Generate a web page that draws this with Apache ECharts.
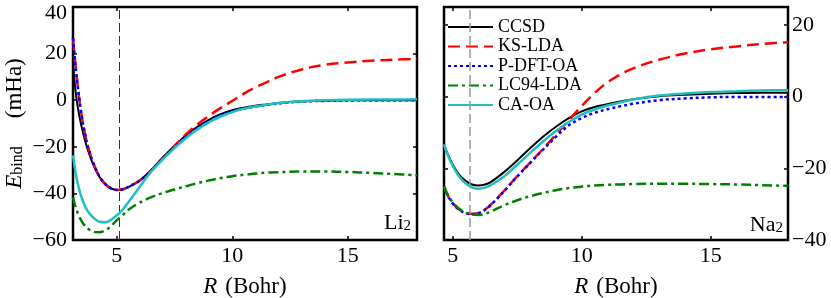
<!DOCTYPE html>
<html><head><meta charset="utf-8">
<script src="https://cdn.jsdelivr.net/npm/echarts@6/dist/echarts.min.js"></script>
<style>html,body{margin:0;padding:0;background:#fff}#c{width:831px;height:298px}</style>
</head><body><div id="c"></div>
<script>
// ---- Li2 panel data (R in Bohr, E_bind in mHa) ----
const rLi    = [3.1, 3.2, 3.3, 3.4, 3.5, 3.6, 3.75, 4.0, 4.25, 4.5, 4.75, 5.0, 5.25, 5.5, 6.0, 6.5, 7.0, 7.5, 8.0, 8.5, 9.0, 9.5, 10, 10.5, 11, 11.5, 12, 13, 14, 15, 16, 17, 18];
const ccsdLi = [16.5, 5, -2.5, -8, -12.5, -16.5, -21.5, -28.2, -33, -36.2, -37.9, -38.5, -38.3, -37.3, -34.3, -29.8, -24.5, -19.5, -15.0, -11.3, -8.3, -6.0, -4.3, -3.2, -2.4, -1.8, -1.2, -0.5, -0.2, 0, 0, 0, 0];
const ksLi   = [26.6, 16, 6.5, -1.5, -8, -13.5, -20, -27.5, -32.8, -36.0, -37.8, -38.5, -38.2, -37.2, -34.5, -30, -24.8, -19.6, -14.6, -10.3, -6.6, -3.3, -0.3, 2.8, 5.5, 7.8, 10.0, 13.2, 15.2, 16.2, 16.9, 17.4, 17.7];
const pdftLi = [26.6, 16, 6.5, -1.5, -8, -13.5, -20, -27.5, -32.8, -36.0, -37.8, -38.5, -38.2, -37.2, -34.5, -30, -24.8, -20, -15.5, -11.8, -8.8, -6.5, -4.8, -3.6, -2.7, -2.0, -1.4, -0.6, -0.3, -0.1, 0, 0, 0];
const lc94Li = [-41.7, -45.5, -48.3, -50.5, -52.3, -53.7, -55.2, -56.5, -56.7, -55.8, -54, -51.5, -49.3, -47.0, -43.9, -41.6, -39.8, -38.3, -36.9, -35.6, -34.4, -33.4, -32.6, -32.0, -31.5, -31.1, -30.9, -30.6, -30.6, -30.8, -31.2, -31.7, -32.2];
const caLi   = [-23.7, -30.5, -35.5, -39.5, -42.5, -45, -47.8, -50.6, -52.2, -52.4, -51.3, -49.4, -47.0, -43.8, -37.0, -30.5, -25.3, -20.5, -16.2, -12.5, -9.4, -7.0, -5.1, -3.7, -2.7, -1.9, -1.2, -0.4, 0, 0.2, 0.3, 0.3, 0.4];
const eqLi = 5.1;

// ---- Na2 panel data ----
const rNa    = [4.66, 4.8, 5.0, 5.25, 5.5, 5.75, 6.0, 6.25, 6.5, 7.0, 7.5, 8.0, 8.5, 9.0, 9.5, 10, 10.5, 11, 11.5, 12, 13, 14, 15, 16, 17, 18];
const ccsdNa = [-13.3, -16.0, -19.0, -21.8, -23.5, -24.5, -24.8, -24.5, -23.7, -21.0, -17.8, -14.4, -11.2, -8.4, -6.0, -4.1, -2.9, -2.1, -1.35, -0.7, 0.1, 0.5, 0.8, 1.0, 1.1, 1.1];
const ksNa   = [-25.1, -27.5, -29.8, -31.5, -32.4, -32.7, -32.4, -31.5, -30.0, -26.2, -22.2, -18.4, -14.6, -10.6, -6.6, -2.6, 1.0, 4.0, 6.2, 7.9, 10.3, 12.0, 13.2, 14.0, 14.7, 15.2];
const pdftNa = [-25.1, -27.5, -29.8, -31.6, -32.5, -32.8, -32.5, -31.6, -30.1, -26.3, -22.3, -18.5, -14.8, -11.2, -8.0, -6.0, -4.5, -3.5, -2.7, -2.0, -1.0, -0.5, -0.2, -0.1, -0.1, -0.1];
const lc94Na = [-25.1, -27.3, -29.5, -31.3, -32.4, -32.9, -33.0, -32.7, -32.0, -30.3, -28.9, -27.8, -26.9, -26.1, -25.5, -25.1, -24.8, -24.6, -24.5, -24.4, -24.3, -24.3, -24.4, -24.5, -24.7, -24.9];
const caNa   = [-13.3, -16.2, -19.3, -22.3, -24.2, -25.3, -25.7, -25.4, -24.6, -22.2, -19.0, -15.7, -12.5, -9.6, -7.1, -5.0, -3.6, -2.5, -1.6, -0.8, 0.3, 0.9, 1.3, 1.5, 1.7, 1.8];
const eqNa = 5.67;

// ---- ticks / names ----
const xTicksLi = [5, 10, 15];
const yTicksLi = [-60, -40, -20, 0, 20, 40];
const xTicksNa = [5, 10, 15];
const yTicksNa = [-40, -20, 0, 20];
const seriesNames = ['CCSD', 'KS-LDA', 'P-DFT-OA', 'LC94-LDA', 'CA-OA'];

const FONT = 'Liberation Serif, DejaVu Serif, serif';
const FS = 22;
const NFS = 23;

const styles = {
  'CCSD':     {color: '#000000', width: 2,   type: 'solid'},
  'KS-LDA':   {color: '#ff0000', width: 2.5, type: [12, 6]},
  'P-DFT-OA': {color: '#0000ff', width: 2.5, type: [3, 3]},
  'LC94-LDA': {color: '#008000', width: 2.5, type: [10, 4, 3, 4]},
  'CA-OA':    {color: '#1fbfbf', width: 2.5, type: 'solid'}
};

function pairs(xs, ys) { return xs.map((x, i) => [x, ys[i]]); }

const richName = {
  i: {fontFamily: FONT, fontSize: NFS, fontStyle: 'italic', color: '#000', lineHeight: 27, verticalAlign: 'bottom'},
  n: {fontFamily: FONT, fontSize: NFS, color: '#000', lineHeight: 27, verticalAlign: 'bottom'},
  s: {fontFamily: FONT, fontSize: 16, color: '#000', lineHeight: 14, verticalAlign: 'bottom'},
  g: {fontFamily: FONT, fontSize: NFS, lineHeight: 27, width: 8},
  G: {fontFamily: FONT, fontSize: NFS, lineHeight: 27, width: 28}
};

const labelStyle = {fontFamily: FONT, fontSize: FS, color: '#000'};
const tickStyle = {show: true, inside: true, length: 4, lineStyle: {color: '#000', width: 1.5}};

function xAx(grid, min, max, ticks, pos, main) {
  return {
    type: 'value', gridIndex: grid, min: min, max: max, position: pos,
    axisLine: {show: false, onZero: false}, splitLine: {show: false},
    axisTick: Object.assign({customValues: ticks}, tickStyle),
    axisLabel: main ? Object.assign({show: true, customValues: ticks, margin: 5}, labelStyle) : {show: false},
    name: main ? '{i|R}{g| }{n|(Bohr)}' : '',
    nameLocation: 'middle', nameGap: 31,
    nameTextStyle: {fontFamily: FONT, fontSize: NFS, color: '#000', rich: richName}
  };
}
function yAx(grid, min, max, ticks, pos, main, margin, name, topVal) {
  return {
    type: 'value', gridIndex: grid, min: min, max: max, position: pos,
    axisLine: {show: false, onZero: false}, splitLine: {show: false},
    axisTick: Object.assign({customValues: ticks}, tickStyle),
    axisLabel: main ? Object.assign({
      show: true, customValues: ticks, margin: margin,
      formatter: v => (v === topVal ? '{t|' + v + '}' : String(v)).replace('-', '\u2212'),
      rich: {t: {fontFamily: FONT, fontSize: FS, color: '#000', padding: [12, 0, 0, 0]}}
    }, labelStyle) : {show: false},
    name: name || '',
    nameLocation: 'middle', nameGap: 47,
    nameTextStyle: {fontFamily: FONT, fontSize: NFS, color: '#000', rich: richName}
  };
}

const liData = [ccsdLi, ksLi, pdftLi, lc94Li, caLi];
const naData = [ccsdNa, ksNa, pdftNa, lc94Na, caNa];

const series = [];
function addPanel(rs, data, xi, yi, eq, eqColor, eqWidth) {
  seriesNames.forEach((nm, k) => {
    const st = styles[nm];
    const s = {
      name: nm, type: 'line', xAxisIndex: xi, yAxisIndex: yi,
      data: pairs(rs, data[k]), symbol: 'none', smooth: 0.35,
      lineStyle: {color: st.color, width: st.width, type: st.type},
      itemStyle: {color: st.color}, z: 3 + k
    };
    if (k === 0) {
      s.markLine = {
        silent: true, symbol: ['none', 'none'], label: {show: false},
        lineStyle: {color: eqColor, width: eqWidth, type: [9, 4]},
        data: [{xAxis: eq}]
      };
    }
    series.push(s);
  });
}
addPanel(rLi, liData, 0, 0, eqLi, '#333333', 1);
addPanel(rNa, naData, 2, 2, eqNa, '#999999', 1.5);

const richMol = {
  a: {fontFamily: FONT, fontSize: FS, color: '#000', lineHeight: 26, verticalAlign: 'bottom'},
  b: {fontFamily: FONT, fontSize: 15, color: '#000', lineHeight: 13, verticalAlign: 'bottom'}
};

const gridBase = {top: 7, bottom: 58, show: true, borderColor: '#000', borderWidth: 2.5,
  backgroundColor: 'transparent', containLabel: false, outerBoundsMode: 'none'};

const option = {
  animation: false,
  backgroundColor: '#fff',
  textStyle: {fontFamily: FONT, color: '#000'},
  grid: [
    Object.assign({left: 73, right: 414}, gridBase),
    Object.assign({left: 444, right: 43}, gridBase)
  ],
  xAxis: [
    xAx(0, 3.1, 18, xTicksLi, 'bottom', true),
    xAx(0, 3.1, 18, xTicksLi, 'top', false),
    xAx(1, 4.66, 18, xTicksNa, 'bottom', true),
    xAx(1, 4.66, 18, xTicksNa, 'top', false)
  ],
  yAxis: [
    yAx(0, -60, 40, yTicksLi, 'left', true, 6, '{i|E}{s|bind}{G| }{n|(mHa)}', 40),
    yAx(0, -60, 40, yTicksLi, 'right', false, 6),
    yAx(1, -40, 25, yTicksNa, 'right', true, 4, '', null),
    yAx(1, -40, 25, yTicksNa, 'left', false, 4)
  ],
  legend: {
    data: seriesNames, orient: 'vertical', left: 447, top: 18, padding: 0,
    itemWidth: 45, itemHeight: 14, itemGap: 1.5, selectedMode: false,
    itemStyle: {opacity: 0},
    textStyle: {fontFamily: FONT, fontSize: 18, color: '#000'}
  },
  graphic: [
    {type: 'text', z: 100, style: {text: '{a|Li}{b|2}', rich: richMol, x: 411, y: 234, align: 'right', verticalAlign: 'bottom'}},
    {type: 'text', z: 100, style: {text: '{a|Na}{b|2}', rich: richMol, x: 783, y: 236, align: 'right', verticalAlign: 'bottom'}}
  ],
  series: series
};

const chart = echarts.init(document.getElementById('c'), null, {renderer: 'canvas'});
chart.setOption(option);
</script>
</body></html>
